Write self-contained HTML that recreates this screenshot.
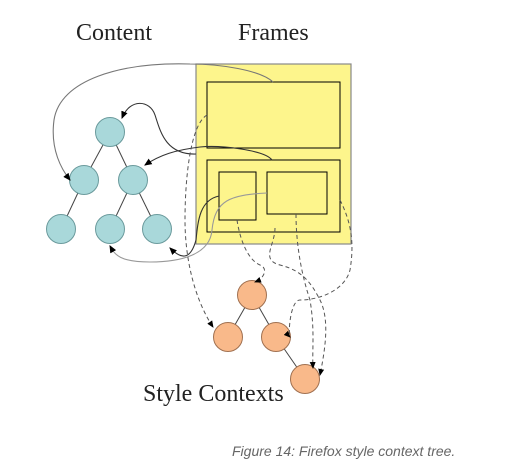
<!DOCTYPE html>
<html><head><style>
body{margin:0;background:#fff;}
svg{display:block}
</style></head><body>
<svg width="511" height="474" viewBox="0 0 511 474" xmlns="http://www.w3.org/2000/svg">
<defs>
<marker id="a" markerWidth="8" markerHeight="8" refX="6" refY="4" orient="auto"><path d="M0,1 L7,4 L0,7Z" fill="#000"/></marker>
</defs>
<text x="76" y="40" font-family="Liberation Serif, serif" font-size="24" fill="#222">Content</text>
<text x="238" y="40" font-family="Liberation Serif, serif" font-size="24" fill="#222">Frames</text>
<rect x="196" y="64" width="155" height="180" fill="#fdf58c" stroke="#888" stroke-width="1.2"/>
<rect x="207" y="82" width="133" height="66" fill="none" stroke="#000" stroke-width="1"/>
<rect x="207" y="160" width="133" height="72" fill="none" stroke="#000" stroke-width="1"/>
<rect x="219" y="172" width="37" height="48" fill="none" stroke="#000" stroke-width="1"/>
<rect x="267" y="172" width="60" height="42" fill="none" stroke="#000" stroke-width="1"/>
<g stroke="#444" stroke-width="1" fill="none">
<line x1="110" y1="132" x2="84" y2="180"/><line x1="110" y1="132" x2="133" y2="180"/>
<line x1="84" y1="180" x2="61" y2="229"/><line x1="133" y1="180" x2="110" y2="229"/><line x1="133" y1="180" x2="157" y2="229"/>
<line x1="252" y1="295" x2="228" y2="337"/><line x1="252" y1="295" x2="276" y2="337"/><line x1="276" y1="337" x2="305" y2="379"/>
</g>
<g fill="#a9d8da" stroke="#6a9a9c">
<circle cx="110" cy="132" r="14.5"/><circle cx="84" cy="180" r="14.5"/><circle cx="133" cy="180" r="14.5"/>
<circle cx="61" cy="229" r="14.5"/><circle cx="110" cy="229" r="14.5"/><circle cx="157" cy="229" r="14.5"/>
</g>
<g fill="#f9b98a" stroke="#a07050">
<circle cx="252" cy="295" r="14.5"/><circle cx="228" cy="337" r="14.5"/><circle cx="276" cy="337" r="14.5"/><circle cx="305" cy="379" r="14.5"/>
</g>
<g stroke="#888" stroke-width="1.1" fill="none">
<path d="M273,82 C260,70 220,64 190,64 C120,62 60,80 54,120 C50,150 62,170 70,180" marker-end="url(#a)" stroke="#777"/>
<path d="M196,154 C165,155 160,130 155,115 C150,100 130,98 122,118" marker-end="url(#a)" stroke="#333"/>
<path d="M272,160 C265,150 220,145 200,147 C175,150 160,155 145,165" marker-end="url(#a)" stroke="#333"/>
<path d="M267,193 C230,195 215,200 212,230 C210,255 180,262 150,262 C120,262 115,255 110,246" marker-end="url(#a)" stroke="#999"/>
<path d="M219,196 C200,200 198,220 196,240 C190,262 180,258 170,248" marker-end="url(#a)" stroke="#333"/>
</g>
<g stroke="#555" stroke-width="1" fill="none" stroke-dasharray="4,3">
<path d="M207,115 C190,125 185,180 185,220 C185,260 195,300 213,327" marker-end="url(#a)"/>
<path d="M237,220 C240,240 248,260 260,265 C268,268 265,278 255,282" marker-end="url(#a)"/>
<path d="M296,214 C296,240 300,270 310,300 C315,330 312,350 313,368" marker-end="url(#a)"/>
<path d="M340,200 C350,220 355,240 350,270 C345,290 320,300 300,300 C290,300 288,335 290,337" marker-end="url(#a)"/>
<path d="M275,228 C275,245 260,260 280,265 C300,270 310,280 320,300 C330,320 325,350 320,375" marker-end="url(#a)"/>
</g>
<text x="143" y="401" font-family="Liberation Serif, serif" font-size="24" fill="#222">Style Contexts</text>
<text x="232" y="456" font-family="Liberation Sans, sans-serif" font-size="14" font-style="italic" fill="#666">Figure 14: Firefox style context tree.</text>
</svg>
</body></html>
